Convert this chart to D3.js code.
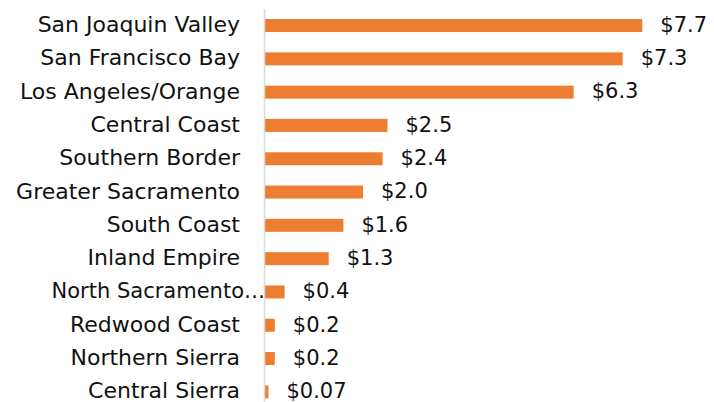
<!DOCTYPE html>
<html><head><meta charset="utf-8">
<script src="https://cdn.jsdelivr.net/npm/d3@7"></script>
<style>body{margin:0;background:#fff}text{font-family:"DejaVu Sans",sans-serif;fill:#111}</style>
</head><body><svg id="c" width="714" height="402"></svg>
<script>
const categories = ["San Joaquin Valley","San Francisco Bay","Los Angeles/Orange","Central Coast","Southern Border","Greater Sacramento","South Coast","Inland Empire","North Sacramento…","Redwood Coast","Northern Sierra","Central Sierra"];
const values = [7.7,7.3,6.3,2.5,2.4,2.0,1.6,1.3,0.4,0.2,0.2,0.07];
const valueLabels = ["$7.7","$7.3","$6.3","$2.5","$2.4","$2.0","$1.6","$1.3","$0.4","$0.2","$0.2","$0.07"];

const svg = d3.select("#c");
const x = d3.scaleLinear().domain([0,8]).range([265,657]);
const y = d3.scaleBand().domain(categories).range([8.9,408.5]).paddingInner(0.61).paddingOuter(0.305);

svg.selectAll("rect.bar").data(values).join("rect")
  .attr("class","bar")
  .attr("x", x(0))
  .attr("y",(d,i)=>y(categories[i]))
  .attr("width",d=>x(d)-x(0))
  .attr("height",y.bandwidth())
  .attr("fill","#ED7D31");

svg.append("line").attr("x1",264.5).attr("x2",264.5).attr("y1",9).attr("y2",402)
  .attr("stroke","#d9d9d9").attr("stroke-width",1.5);

svg.selectAll("text.cat").data(categories).join("text")
  .attr("class","cat")
  .attr("x",d=>d.endsWith("…")?265:240)
  .attr("y",d=>y(d)+y.bandwidth()/2)
  .attr("dy","0.3em")
  .attr("text-anchor","end")
  .attr("font-size",d=>d.endsWith("…")?21:22)
  .text(d=>d);

svg.selectAll("text.val").data(values).join("text")
  .attr("class","val")
  .attr("x",d=>x(d)+18)
  .attr("y",(d,i)=>y(categories[i])+y.bandwidth()/2)
  .attr("dy","0.3em")
  .attr("font-size",21)
  .text((d,i)=>valueLabels[i]);
</script></body></html>
